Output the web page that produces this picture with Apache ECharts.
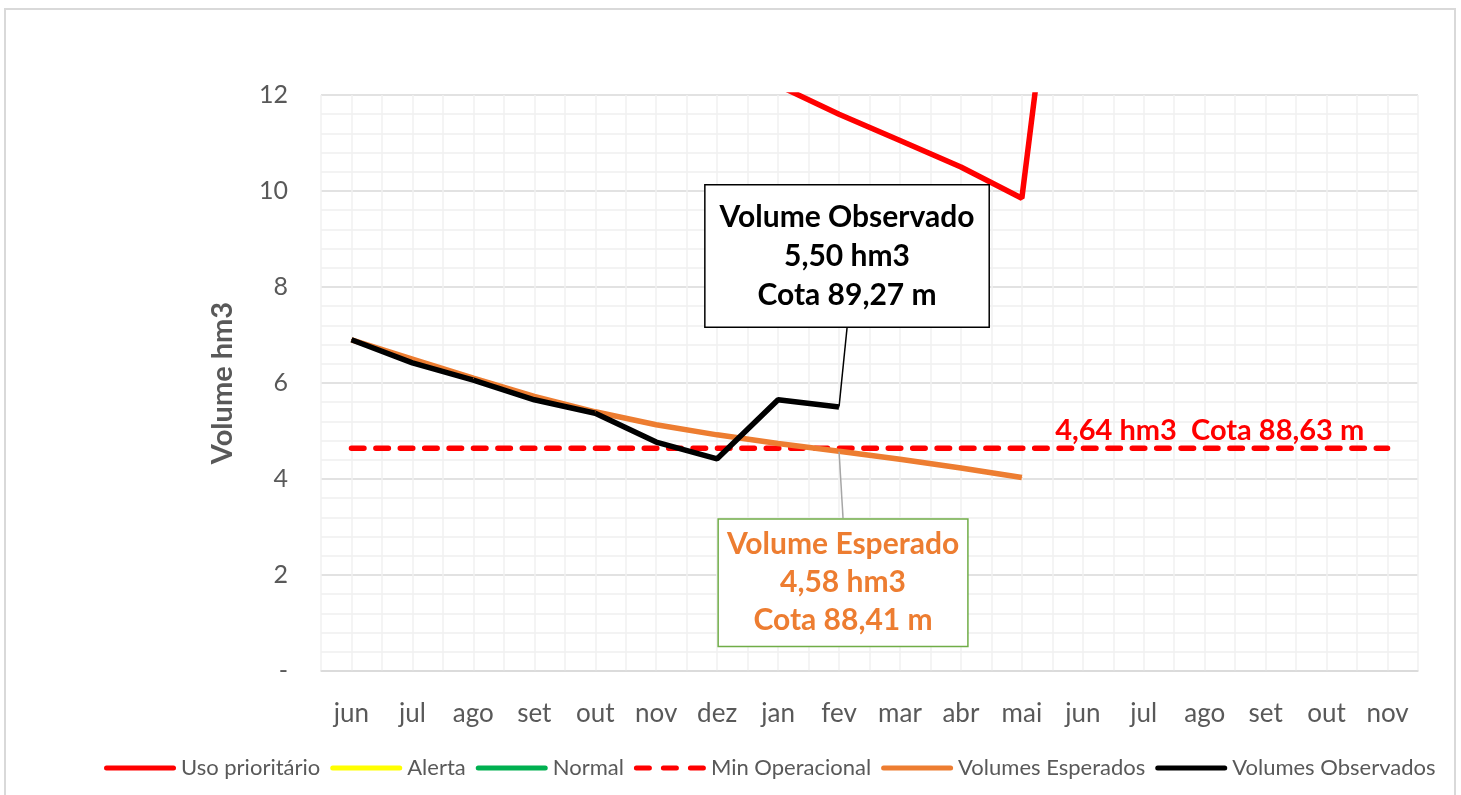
<!DOCTYPE html>
<html>
<head>
<meta charset="utf-8">
<script src="https://cdn.jsdelivr.net/npm/echarts@6/dist/echarts.min.js"></script>
<style>
  html, body { margin: 0; padding: 0; background: #fff; }
  #chart { width: 1461px; height: 795px; }
</style>
</head>
<body>
<div id="chart"></div>
<script>
// meses (jun .. nov do ano seguinte)
var categories = ['jun', 'jul', 'ago', 'set', 'out', 'nov', 'dez', 'jan', 'fev', 'mar', 'abr', 'mai', 'jun', 'jul', 'ago', 'set', 'out', 'nov'];
var yTicks = [0, 2, 4, 6, 8, 10, 12];

// volumes em hm3
var usoPrioritario = [null, null, null, null, null, null, null, 12.2, 11.6, 11.05, 10.5, 9.85, 20.0, null, null, null, null, null];
var alerta = [];
var normal = [];
var minOperacional = [4.64, 4.64, 4.64, 4.64, 4.64, 4.64, 4.64, 4.64, 4.64, 4.64, 4.64, 4.64, 4.64, 4.64, 4.64, 4.64, 4.64, 4.64];
var volumesEsperados = [6.9, 6.5, 6.1, 5.72, 5.4, 5.13, 4.92, 4.74, 4.58, 4.41, 4.23, 4.03, null, null, null, null, null, null];
var volumesObservados = [6.9, 6.42, 6.06, 5.65, 5.37, 4.77, 4.42, 5.65, 5.50, null, null, null, null, null, null, null, null, null];

var labelObservado = ['Volume Observado', '5,50 hm3', 'Cota 89,27 m'];
var labelEsperado = ['Volume Esperado', '4,58 hm3', 'Cota 88,41 m'];
var labelMinimo = '4,64 hm3  Cota 88,63 m';
var labelIndex = 8;     // fev
var minLabelIndex = 14; // set

var FONT = 'Lato, "Open Sans", sans-serif';
var GRAY = '#595959';
var LINE_W = 5.5;
var SOLID_ICON = 'path://M2.5,0h67a2.5,2.5,0,0,1,0,5h-67a2.5,2.5,0,0,1,0,-5z';
var DASH_ICON = 'path://M2.5,0h13a2.5,2.5,0,0,1,0,5h-13a2.5,2.5,0,0,1,0,-5z M29.5,0h13a2.5,2.5,0,0,1,0,5h-13a2.5,2.5,0,0,1,0,-5z M56.5,0h13a2.5,2.5,0,0,1,0,5h-13a2.5,2.5,0,0,1,0,-5z';

function withLabel(values, index, label) {
    return values.map(function (v, i) {
        if (i !== index) return v;
        return { value: v, label: label };
    });
}

function lineSeries(name, data, color, extra) {
    var s = {
        name: name,
        type: 'line',
        data: data,
        symbol: 'circle',
        symbolSize: 1,
        showSymbol: true,
        itemStyle: { color: color },
        color: color,
        lineStyle: { color: color, width: LINE_W },
        emphasis: { disabled: true }
    };
    for (var k in extra) s[k] = extra[k];
    return s;
}

var chart = echarts.init(document.getElementById('chart'));

var option = {
    animation: false,
    textStyle: { fontFamily: FONT },
    graphic: [{
        type: 'rect',
        shape: { x: 5, y: 9, width: 1450, height: 800 },
        style: { fill: 'none', stroke: '#d9d9d9', lineWidth: 2 },
        silent: true,
        z: -10
    }],
    grid: { left: 321, right: 43, top: 95, bottom: 124 },
    legend: {
        bottom: 11,
        left: 99,
        itemWidth: 72,
        itemHeight: 5,
        itemGap: 10,
        symbolKeepAspect: false,
        textStyle: { fontSize: 22, color: GRAY, fontFamily: FONT },
        data: [
            { name: 'Uso prioritário', icon: SOLID_ICON },
            { name: 'Alerta', icon: SOLID_ICON },
            { name: 'Normal', icon: SOLID_ICON },
            { name: 'Min Operacional', icon: DASH_ICON },
            { name: 'Volumes Esperados', icon: SOLID_ICON },
            { name: 'Volumes Observados', icon: SOLID_ICON }
        ]
    },
    xAxis: [{
        type: 'category',
        data: categories,
        axisLine: { lineStyle: { color: '#d9d9d9', width: 1.5 } },
        axisTick: { show: false },
        axisLabel: { fontSize: 26, color: GRAY, margin: 30, interval: 0 },
        splitLine: { show: false },
        z: 3
    }, {
        // meia-categoria: linhas verticais de grade
        type: 'value',
        min: 0,
        max: 36,
        interval: 1,
        axisLine: { show: false },
        axisTick: { show: false },
        axisLabel: { show: false },
        splitLine: { show: true, lineStyle: { color: '#f0f0f0', width: 1.5 } }
    }],
    yAxis: {
        type: 'value',
        min: yTicks[0],
        max: yTicks[yTicks.length - 1],
        interval: 2,
        name: 'Volume hm3',
        nameLocation: 'middle',
        nameGap: 84,
        nameTextStyle: { fontSize: 29, fontWeight: 'bold', color: GRAY, fontFamily: FONT },
        axisLine: { show: false },
        axisTick: { show: false },
        axisLabel: {
            fontSize: 25,
            color: GRAY,
            margin: 33,
            formatter: function (v) { return v === 0 ? '-' : String(v); }
        },
        splitLine: { lineStyle: { color: '#d9d9d9', width: 1.5 } },
        minorTick: { show: false, splitNumber: 5 },
        minorSplitLine: { show: true, lineStyle: { color: '#f0f0f0', width: 1.5 } }
    },
    series: [
        lineSeries('Uso prioritário', usoPrioritario, '#ff0000', {}),
        lineSeries('Alerta', alerta, '#ffff00', {}),
        lineSeries('Normal', normal, '#00b050', {}),
        lineSeries('Min Operacional', withLabel(minOperacional, minLabelIndex, {
            show: true,
            position: 'top',
            distance: 3,
            offset: [5, 0],
            formatter: labelMinimo,
            fontSize: 29,
            fontWeight: 'bold',
            color: '#ff0000',
            fontFamily: FONT
        }), '#ff0000', {
            lineStyle: { color: '#ff0000', width: LINE_W, type: [12.5, 11.9], cap: 'round' }
        }),
        lineSeries('Volumes Esperados', withLabel(volumesEsperados, labelIndex, {
            show: true,
            position: 'bottom',
            formatter: labelEsperado.join('\n'),
            fontSize: 30,
            lineHeight: 38,
            fontWeight: 'bold',
            color: '#ed7d31',
            fontFamily: FONT,
            align: 'center',
            backgroundColor: '#fff',
            borderColor: '#70ad47',
            borderWidth: 1.5,
            padding: [6, 8, 6, 8]
        }), '#ed7d31', {
            labelLayout: { dx: 4, dy: 63 },
            labelLine: { show: true, lineStyle: { color: '#a6a6a6', width: 1.5 } }
        }),
        lineSeries('Volumes Observados', withLabel(volumesObservados, labelIndex, {
            show: true,
            position: 'top',
            formatter: labelObservado.join('\n'),
            fontSize: 30,
            lineHeight: 39,
            fontWeight: 'bold',
            color: '#000',
            fontFamily: FONT,
            align: 'center',
            backgroundColor: '#fff',
            borderColor: '#000',
            borderWidth: 1.5,
            padding: [12, 14, 12, 14]
        }), '#000', {
            labelLayout: { dx: 8, dy: -75 },
            labelLine: { show: true, lineStyle: { color: '#000', width: 1.5 } }
        })
    ]
};

chart.setOption(option);
</script>
</body>
</html>
